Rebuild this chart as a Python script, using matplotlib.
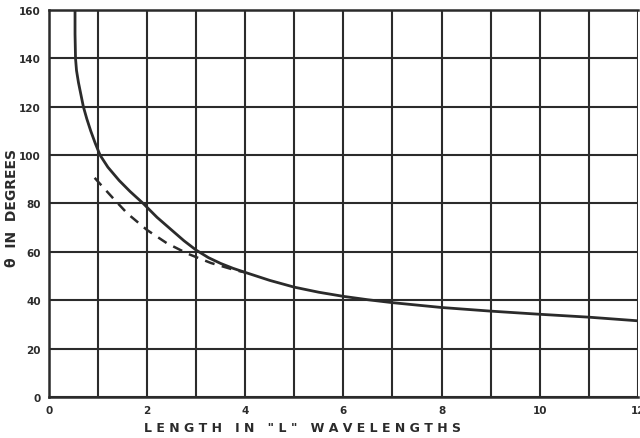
import matplotlib.pyplot as plt
import numpy as np

# solid curve: theta vs length (wavelengths)
length_solid = [0.53, 0.53, 0.54, 0.56, 0.60, 0.65, 0.70, 0.77, 0.85, 0.94, 1.04, 1.2, 1.43, 1.65, 1.92,
                2.2, 2.5, 2.75, 3.0, 3.25, 3.5, 3.75, 4.0, 4.5, 5.0, 5.5, 6.0, 6.5, 7.0, 8.0, 9.0, 10.0, 11.0, 12.0]
theta_solid = [160, 150, 140, 135, 130, 125, 120, 115, 110, 105, 100, 95, 89.5, 85, 80,
               74.3, 69, 64.6, 60.7, 57.6, 55.2, 53.2, 51.5, 48.2, 45.4, 43.3, 41.6, 40.2, 39, 37, 35.5, 34.2, 33, 31.5]

# dashed curve
length_dash = [0.93, 1.0, 1.3, 1.6, 2.0, 2.4, 2.83, 3.3, 3.8, 4.0]
theta_dash = [90.6, 89, 82.3, 75.8, 69, 63.6, 59.2, 55.4, 52.4, 51.5]

xticks = [0, 2, 4, 6, 8, 10, 12]
yticks = [0, 20, 40, 60, 80, 100, 120, 140, 160]

ink = '#2b2b2b'

fig = plt.figure(figsize=(6.4, 4.39), dpi=100)
ax = fig.add_axes([0.0766, 0.0934, 0.92, 0.8816])

ax.plot(length_solid, theta_solid, color=ink, lw=2.0, solid_capstyle='butt', solid_joinstyle='round')
ax.plot(length_dash, theta_dash, color=ink, lw=1.8, ls=(0, (4, 3)))

ax.set_xlim(0, 12)
ax.set_ylim(0, 160)
ax.set_xticks(np.arange(0, 13, 1))
ax.set_xticklabels([str(v) if v in xticks else '' for v in range(13)])
ax.set_yticks(yticks)
ax.set_yticklabels([str(v) for v in yticks])
ax.grid(True, color=ink, lw=1.5)
ax.tick_params(length=0, pad=6, labelsize=7.5, colors=ink)
for lab in ax.get_xticklabels() + ax.get_yticklabels():
    lab.set_fontweight('bold')
for s in ax.spines.values():
    s.set_color(ink)
    s.set_linewidth(1.8)
ax.spines['right'].set_visible(False)

fig.text(0.472, 0.01, 'L E N G T H   I N   " L "   W A V E L E N G T H S',
         ha='center', va='bottom', fontsize=9, fontweight='bold', color=ink)
fig.text(0.019, 0.527, 'θ  IN  DEGREES', rotation=90, ha='center', va='center',
         fontsize=10, fontweight='bold', color=ink)

fig.savefig('out.png', dpi=100)
